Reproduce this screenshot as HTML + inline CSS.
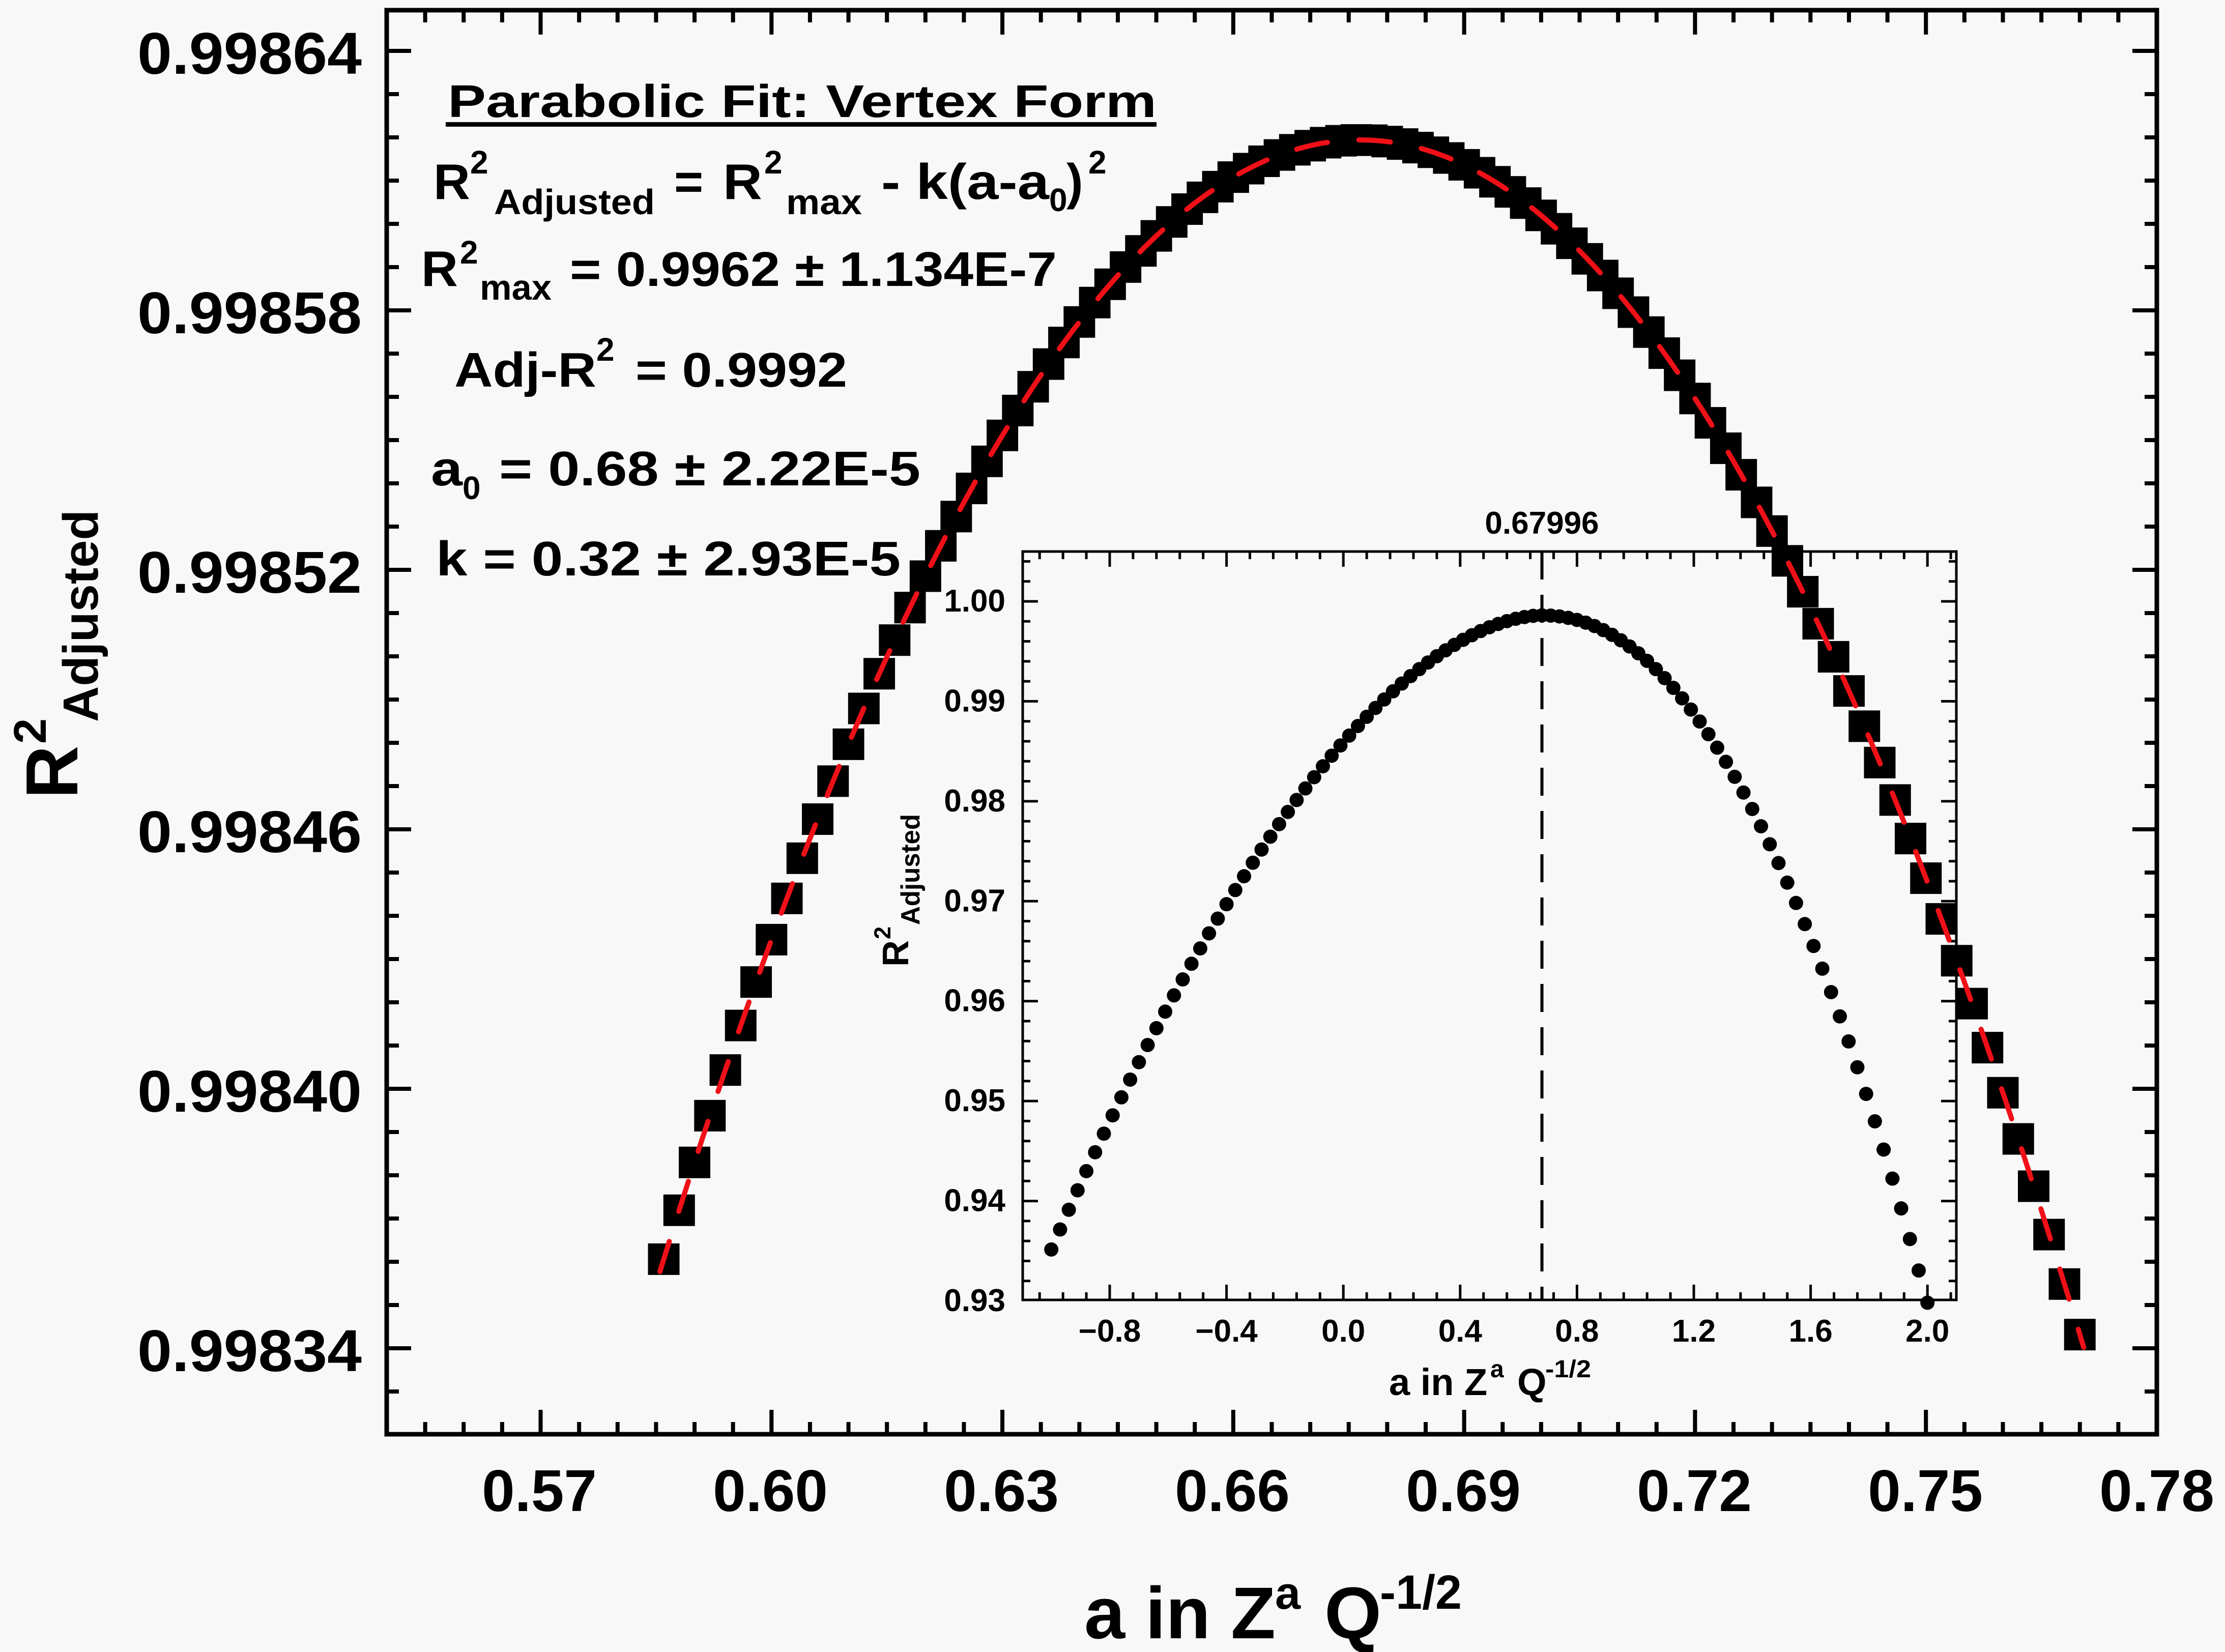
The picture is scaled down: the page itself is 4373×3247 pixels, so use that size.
<!DOCTYPE html>
<html><head><meta charset="utf-8"><style>
html,body{margin:0;padding:0;background:#f8f8f8;}
svg{display:block;}
text{font-family:"Liberation Sans",Arial,sans-serif;font-weight:bold;fill:#000;}
</style></head><body>
<svg id="s" xmlns="http://www.w3.org/2000/svg" width="4373" height="3247" viewBox="0 0 4373 3247">
<rect x="0" y="0" width="4373" height="3247" fill="#f8f8f8"/>
<g id="main"></g>
<g id="inset"></g>
<g id="sq"></g>
<path id="fit" fill="none" stroke="#f01018" stroke-width="10" stroke-dasharray="62 62" stroke-linecap="round"/>
<!-- main y tick labels -->
<g font-size="116" text-anchor="end">
<text x="711" y="145" textLength="441" lengthAdjust="spacingAndGlyphs">0.99864</text>
<text x="711" y="655" textLength="441" lengthAdjust="spacingAndGlyphs">0.99858</text>
<text x="711" y="1165" textLength="441" lengthAdjust="spacingAndGlyphs">0.99852</text>
<text x="711" y="1675" textLength="441" lengthAdjust="spacingAndGlyphs">0.99846</text>
<text x="711" y="2185" textLength="441" lengthAdjust="spacingAndGlyphs">0.99840</text>
<text x="711" y="2695" textLength="441" lengthAdjust="spacingAndGlyphs">0.99834</text>
</g>
<g font-size="116" text-anchor="middle">
<text x="1060" y="2970">0.57</text>
<text x="1514" y="2970">0.60</text>
<text x="1968" y="2970">0.63</text>
<text x="2422" y="2970">0.66</text>
<text x="2876" y="2970">0.69</text>
<text x="3330" y="2970">0.72</text>
<text x="3784" y="2970">0.75</text>
<text x="4239" y="2970">0.78</text>
</g>
<!-- main x title -->
<text x="2131" y="3220" font-size="144">a in Z</text>
<text x="2506" y="3162" font-size="90">a</text>
<text x="2603" y="3220" font-size="144">Q</text>
<text x="2712" y="3162" font-size="95" textLength="161" lengthAdjust="spacingAndGlyphs">-1/2</text>
<!-- main y title -->
<g transform="translate(152,1570) rotate(-90)">
<text x="0" y="0" font-size="145">R</text>
<text x="108" y="-62" font-size="90">2</text>
<text x="151" y="40" font-size="97" textLength="417" lengthAdjust="spacingAndGlyphs">Adjusted</text>
</g>
<!-- annotation block -->
<text x="880" y="230" font-size="90" textLength="1393" lengthAdjust="spacingAndGlyphs">Parabolic Fit: Vertex Form</text>
<rect x="876" y="240" width="1397" height="9" fill="#000"/>
<text x="852" y="391" font-size="98" textLength="72" lengthAdjust="spacingAndGlyphs">R</text>
<text x="924" y="341" font-size="64">2</text>
<text x="971" y="421" font-size="70" textLength="316" lengthAdjust="spacingAndGlyphs">Adjusted</text>
<text x="1325" y="391" font-size="98">=</text>
<text x="1421" y="391" font-size="98" textLength="77" lengthAdjust="spacingAndGlyphs">R</text>
<text x="1502" y="341" font-size="64">2</text>
<text x="1545" y="421" font-size="70" textLength="149" lengthAdjust="spacingAndGlyphs">max</text>
<text x="1732" y="391" font-size="98" textLength="330" lengthAdjust="spacingAndGlyphs">- k(a-a</text>
<text x="2062" y="415" font-size="64">0</text>
<text x="2096" y="391" font-size="98">)</text>
<text x="2139" y="341" font-size="64">2</text>

<text x="828" y="562" font-size="98" textLength="72" lengthAdjust="spacingAndGlyphs">R</text>
<text x="904" y="518" font-size="64">2</text>
<text x="943" y="589" font-size="70" textLength="141" lengthAdjust="spacingAndGlyphs">max</text>
<text x="1120" y="562" font-size="96" textLength="957" lengthAdjust="spacingAndGlyphs">= 0.9962 ± 1.134E-7</text>

<text x="893" y="760" font-size="96" textLength="279" lengthAdjust="spacingAndGlyphs">Adj-R</text>
<text x="1172" y="709" font-size="64">2</text>
<text x="1249" y="760" font-size="96" textLength="416" lengthAdjust="spacingAndGlyphs">= 0.9992</text>

<text x="847" y="954" font-size="96" textLength="62" lengthAdjust="spacingAndGlyphs">a</text>
<text x="909" y="981" font-size="64">0</text>
<text x="981" y="954" font-size="96" textLength="828" lengthAdjust="spacingAndGlyphs">= 0.68 ± 2.22E-5</text>

<text x="857" y="1131" font-size="96" textLength="913" lengthAdjust="spacingAndGlyphs">k = 0.32 ± 2.93E-5</text>
</svg>
<script>
(function(){
var NS="http://www.w3.org/2000/svg";
function el(p,t,a){var e=document.createElementNS(NS,t);for(var k in a)e.setAttribute(k,a[k]);p.appendChild(e);return e;}
var main=document.getElementById('main');
var L=760,R=4239,T=20,B=2819;
el(main,'rect',{x:L,y:T,width:R-L,height:B-T,fill:'none',stroke:'#000','stroke-width':9});
for(var i=-1;i<=32;i++){var y=100+85*i;if(y<=T+5||y>=B-5)continue;var maj=(i%6===0);var len=maj?48:24;
el(main,'line',{x1:L,y1:y,x2:L+len,y2:y,stroke:'#000','stroke-width':8});
el(main,'line',{x1:R,y1:y,x2:R-len,y2:y,stroke:'#000','stroke-width':8});}
for(var j=0;j<=46;j++){var a=0.55+0.005*j;var x=L+(a-0.55)*15126;if(x<=L+5||x>=R-5)continue;
var maj=(Math.abs(Math.round((a-0.57)/0.005))%6===0);var len=maj?48:24;
el(main,'line',{x1:x,y1:B,x2:x,y2:B-len,stroke:'#000','stroke-width':8});
el(main,'line',{x1:x,y1:T,x2:x,y2:T+len,stroke:'#000','stroke-width':8});}
var ins=document.getElementById('inset');
var IL=2010,IR=3845,IT=1084,IB=2555;
function IX(v){return 2181+(v+0.8)*574;}
function IY(v){return 2557-(v-0.93)*19643;}
el(ins,'rect',{x:IL,y:IT,width:IR-IL,height:IB-IT,fill:'none',stroke:'#000','stroke-width':5});
for(var k=0;k<=40;k++){var v=-1.12+0.08*k;var x=IX(v);if(x<=IL+3||x>=IR-3)continue;
var maj=Math.abs(Math.round((v+0.8)/0.08))%5===0;var len=maj?30:15;
el(ins,'line',{x1:x,y1:IB,x2:x,y2:IB-len,stroke:'#000','stroke-width':5});
el(ins,'line',{x1:x,y1:IT,x2:x,y2:IT+len,stroke:'#000','stroke-width':5});}
for(var k=0;k<=40;k++){var v=0.93+0.002*k;var y=IY(v);if(y<=IT+3||y>=IB-3)continue;
var maj=(k%5===0);var len=maj?30:15;
el(ins,'line',{x1:IL,y1:y,x2:IL+len,y2:y,stroke:'#000','stroke-width':5});
el(ins,'line',{x1:IR,y1:y,x2:IR-len,y2:y,stroke:'#000','stroke-width':5});}
el(ins,'line',{x1:IX(0.67996),y1:IT,x2:IX(0.67996),y2:IB,stroke:'#000','stroke-width':6,'stroke-dasharray':'55 30'});
var yl=['0.93','0.94','0.95','0.96','0.97','0.98','0.99','1.00'];
for(var k=0;k<8;k++){var t=el(ins,'text',{x:1976,y:IY(0.93+0.01*k)+20,'font-size':62,'text-anchor':'end'});t.textContent=yl[k];}
var xl=[[-0.8,'\u22120.8'],[-0.4,'\u22120.4'],[0,'0.0'],[0.4,'0.4'],[0.8,'0.8'],[1.2,'1.2'],[1.6,'1.6'],[2.0,'2.0']];
for(var k=0;k<xl.length;k++){var t=el(ins,'text',{x:IX(xl[k][0]),y:2637,'font-size':62,'text-anchor':'middle'});t.textContent=xl[k][1];}
var t=el(ins,'text',{x:IX(0.67996),y:1049,'font-size':62,'text-anchor':'middle'});t.textContent='0.67996';
function tx(p,x,y,s,str,extra){var e=el(p,'text',{x:x,y:y,'font-size':s});if(extra)for(var q in extra)e.setAttribute(q,extra[q]);e.textContent=str;return e;}
tx(ins,2730,2742,74,'a in Z');tx(ins,2929,2707,48,'a');tx(ins,2982,2742,74,'Q');
tx(ins,3037,2707,48,'-1/2',{textLength:90,lengthAdjust:'spacingAndGlyphs'});
var g=el(ins,'g',{transform:'translate(1785,1900) rotate(-90)'});
tx(g,0,0,72,'R');tx(g,54,-35,45,'2');tx(g,82,22,52,'Adjusted',{textLength:218,lengthAdjust:'spacingAndGlyphs'});
for(var k=0;k<=100;k++){var v=-1.0+0.03*k;var d=v-0.68;var drop=d<0?0.0252*Math.pow(-d,1.78):0.0385*Math.pow(d,2.09);
el(ins,'circle',{cx:IX(v),cy:IY(0.9986-drop),r:14,fill:'#000'});}
var sq=document.getElementById('sq');
function MX(a){return 760+(a-0.55)*15126;}
function MY(a){return 275+268600*(a-0.6765)*(a-0.6765);}
for(var i=0;i<=92;i++){var a=0.586+0.002*i;el(sq,'rect',{x:MX(a)-31,y:MY(a)-31,width:62,height:62,fill:'#000'});}
var dstr='';for(var i=0;i<=200;i++){var a=0.5855+0.000925*i;dstr+=(i?'L':'M')+MX(a).toFixed(1)+' '+MY(a).toFixed(1);}
document.getElementById('fit').setAttribute('d',dstr);
})();
</script>
</body></html>
